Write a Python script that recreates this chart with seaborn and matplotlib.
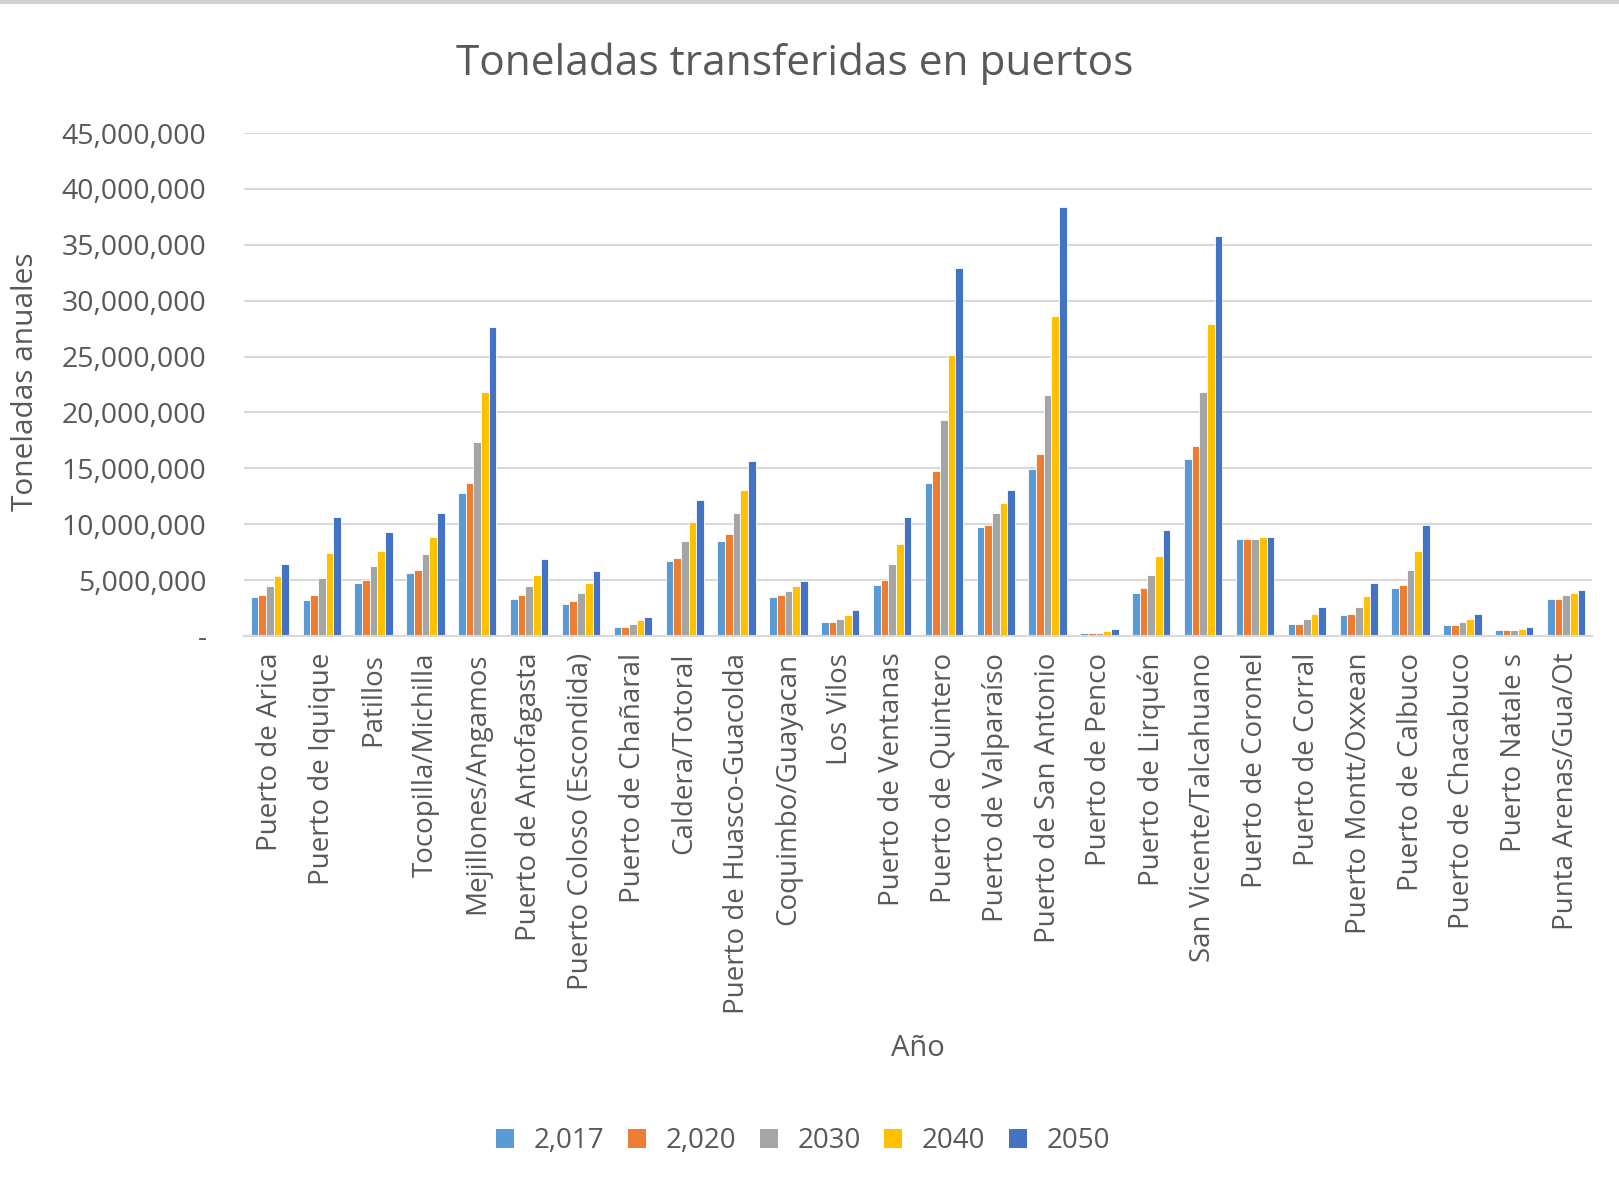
import matplotlib
matplotlib.use("Agg")
import matplotlib.pyplot as plt
from matplotlib.lines import Line2D
from matplotlib.patches import Patch
from matplotlib.ticker import FuncFormatter
import seaborn as sns
import pandas as pd

puertos = [
    "Puerto de Arica", "Puerto de Iquique", "Patillos", "Tocopilla/Michilla",
    "Mejillones/Angamos", "Puerto de Antofagasta", "Puerto Coloso (Escondida)",
    "Puerto de Chañaral", "Caldera/Totoral", "Puerto de Huasco-Guacolda",
    "Coquimbo/Guayacan", "Los Vilos", "Puerto de Ventanas", "Puerto de Quintero",
    "Puerto de Valparaíso", "Puerto de San Antonio", "Puerto de Penco",
    "Puerto de Lirquén", "San Vicente/Talcahuano", "Puerto de Coronel",
    "Puerto de Corral", "Puerto Montt/Oxxean", "Puerto de Calbuco",
    "Puerto de Chacabuco", "Puerto Natale s", "Punta Arenas/Gua/Ot",
]

anios = ["2,017", "2,020", "2030", "2040", "2050"]

# millones de toneladas por año
t2017 = [3.49, 3.20, 4.72, 5.65, 12.75, 3.35, 2.90, 0.81, 6.72, 8.51, 3.49, 1.25, 4.60,
         13.68, 9.74, 14.90, 0.30, 3.85, 15.80, 8.69, 1.11, 1.85, 4.30, 0.96, 0.51, 3.35]
t2020 = [3.70, 3.70, 5.05, 5.94, 13.68, 3.70, 3.11, 0.81, 7.02, 9.14, 3.70, 1.25, 5.05,
         14.76, 9.89, 16.28, 0.30, 4.30, 17.03, 8.69, 1.11, 2.00, 4.60, 0.96, 0.51, 3.35]
t2030 = [4.45, 5.20, 6.27, 7.32, 17.32, 4.45, 3.85, 1.11, 8.51, 10.96, 4.00, 1.55, 6.42,
         19.30, 10.96, 21.56, 0.30, 5.50, 21.86, 8.69, 1.55, 2.60, 5.94, 1.25, 0.51, 3.70]
t2040 = [5.35, 7.47, 7.62, 8.84, 21.86, 5.50, 4.72, 1.40, 10.19, 13.08, 4.45, 1.85, 8.21,
         25.18, 11.86, 28.67, 0.45, 7.17, 27.93, 8.84, 2.00, 3.55, 7.62, 1.55, 0.66, 3.85]
t2050 = [6.42, 10.66, 9.29, 10.96, 27.63, 6.87, 5.80, 1.70, 12.16, 15.65, 4.90, 2.30, 10.66,
         32.95, 13.08, 38.38, 0.60, 9.44, 35.81, 8.84, 2.60, 4.72, 9.89, 2.00, 0.81, 4.12]

colores = ["#5B9BD5", "#ED7D31", "#A5A5A5", "#FFC000", "#4472C4"]

series = [t2017, t2020, t2030, t2040, t2050]
filas = []
for anio, valores in zip(anios, series):
    for puerto, v in zip(puertos, valores):
        filas.append({"Puerto": puerto, "Año": anio, "Toneladas": v * 1e6})
df = pd.DataFrame(filas)

sns.set_theme(style="white")
plt.rcParams["font.family"] = ["Open Sans", "DejaVu Sans"]
gris = "#595959"

fig = plt.figure(figsize=(16.19, 11.89), dpi=100)
ax = fig.add_axes([244 / 1619, 1 - 636 / 1189, (1592 - 244) / 1619, (636 - 133) / 1189])

sns.barplot(data=df, x="Puerto", y="Toneladas", hue="Año", hue_order=anios,
            order=puertos, palette=colores, saturation=1, width=0.74,
            edgecolor="white", linewidth=0.6, ax=ax, legend=False, errorbar=None)

ax.set_ylim(0, 45e6)
ax.set_yticks([i * 5e6 for i in range(10)])
ax.yaxis.set_major_formatter(FuncFormatter(lambda v, p: "-" if v == 0 else f"{int(v):,}"))
ax.set_xlim(-0.5, len(puertos) - 0.5)
ax.grid(axis="y", color="#D9D9D9", linewidth=1.5)
ax.set_axisbelow(True)
for s in ["top", "right", "left"]:
    ax.spines[s].set_visible(False)
ax.spines["bottom"].set_color("#D9D9D9")
ax.spines["bottom"].set_linewidth(1.5)

ax.tick_params(axis="y", length=0, pad=27, labelsize=20.5, labelcolor=gris)
ax.tick_params(axis="x", length=0, pad=12, labelsize=20, labelcolor=gris)
plt.setp(ax.get_xticklabels(), rotation=90, ha="center", va="top")

ax.set_ylabel("Toneladas anuales", fontsize=21.5, color=gris)
ax.yaxis.label.set_va("center")
ax.yaxis.set_label_coords(-0.162, 0.505)
ax.set_xlabel("Año", fontsize=21, color=gris)
ax.xaxis.label.set_va("center")
ax.xaxis.set_label_coords(0.5, (636 - 1049) / 503)

fig.text(795 / 1619, 1 - 64 / 1189, "Toneladas transferidas en puertos",
         ha="center", va="center", fontsize=30.5, color=gris)

handles = [Patch(facecolor=c, edgecolor="none") for c in colores]
fig.legend(handles, anios, loc="center", bbox_to_anchor=(803 / 1619, 1 - 1141 / 1189),
           ncol=5, frameon=False, fontsize=20, labelcolor=gris,
           handlelength=0.65, handleheight=0.65, handletextpad=0.7, columnspacing=0.85)

fig.add_artist(Line2D([0, 1], [1 - 2 / 1189, 1 - 2 / 1189], transform=fig.transFigure,
                      color="#D0D0D0", linewidth=3))

fig.savefig("out.png", dpi=100, facecolor="white")
